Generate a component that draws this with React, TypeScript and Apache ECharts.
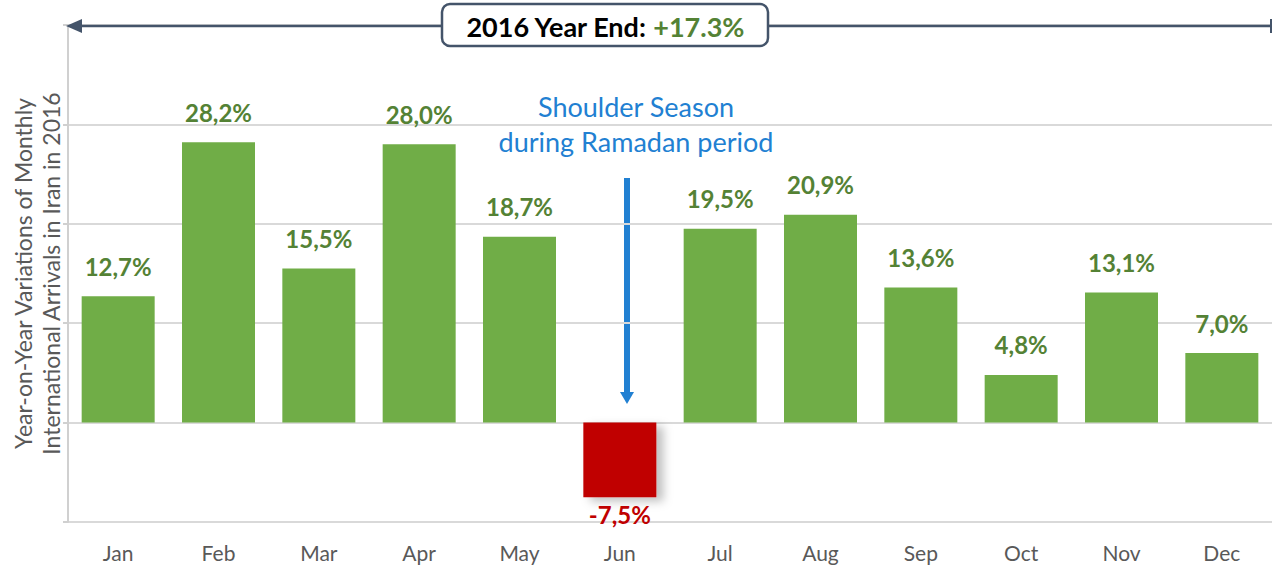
import React, { useEffect, useRef } from "react";
import * as echarts from "echarts";

const months = ["Jan", "Feb", "Mar", "Apr", "May", "Jun", "Jul", "Aug", "Sep", "Oct", "Nov", "Dec"];
const values = [12.7, 28.2, 15.5, 28.0, 18.7, -7.5, 19.5, 20.9, 13.6, 4.8, 13.1, 7.0];
const yearEndLabel = "2016 Year End: ";
const yearEndValue = "+17.3%";
const annotation = ["Shoulder Season", "during Ramadan period"];
const yName = "Year-on-Year Variations of Monthly\nInternational Arrivals in Iran in 2016";

const FONT = "Lato, 'Open Sans', sans-serif";
const GREEN = "#70ad47";
const GREEN_TXT = "#548235";
const RED = "#c00000";
const SLATE = "#44546a";
const BLUE = "#2180d2";

export default function App() {
  const ref = useRef<HTMLDivElement>(null);
  useEffect(() => {
    if (!ref.current) return;
    const chart = echarts.init(ref.current, undefined, { renderer: "svg" });
    const fmt = (v: number) => v.toFixed(1).replace(".", ",") + "%";
    chart.setOption({
      animation: false,
      textStyle: { fontFamily: FONT },
      grid: { left: 68, right: 0, top: 25, bottom: 43, containLabel: false, outerBoundsMode: "none" },
      xAxis: {
        type: "category",
        data: months,
        axisLine: { show: false, onZero: false },
        axisTick: { show: false },
        axisLabel: { color: "#595959", fontSize: 21, margin: 20, fontFamily: FONT },
      },
      yAxis: {
        type: "value",
        min: -10,
        max: 40,
        interval: 10,
        axisLabel: { show: false },
        axisLine: { show: true, lineStyle: { color: "#d0d0d0", width: 2 } },
        axisTick: { show: true, length: 5, lineStyle: { color: "#d0d0d0", width: 2 } },
        splitLine: { show: true, lineStyle: { color: "#d9d9d9", width: 2 } },
        name: yName,
        nameLocation: "middle",
        nameRotate: 90,
        nameGap: 3,
        nameTextStyle: { color: "#595959", fontSize: 23, lineHeight: 28, fontFamily: FONT },
      },
      series: [
        {
          type: "bar",
          barWidth: 73,
          data: values.map((v) =>
            v < 0
              ? {
                  value: v,
                  itemStyle: {
                    color: RED,
                    shadowColor: "rgba(0,0,0,0.25)",
                    shadowBlur: 10,
                    shadowOffsetX: 7,
                    shadowOffsetY: 4,
                  },
                  label: { color: RED, position: "bottom", distance: 5 },
                }
              : { value: v }
          ),
          itemStyle: { color: GREEN },
          label: {
            show: true,
            position: "top",
            distance: 18,
            color: GREEN_TXT,
            fontWeight: "bold",
            fontSize: 24,
            fontFamily: FONT,
            formatter: (p: any) => fmt(p.value),
          },
        },
      ],
      graphic: [
        {
          type: "line",
          z: 1,
          shape: { x1: 80, y1: 26, x2: 1271, y2: 26 },
          style: { stroke: SLATE, lineWidth: 2.5 },
        },
        {
          type: "polygon",
          z: 1,
          shape: { points: [[66, 26], [82, 19], [82, 33]] },
          style: { fill: SLATE },
        },
        {
          type: "line",
          z: 1,
          shape: { x1: 1271, y1: 19, x2: 1271, y2: 33 },
          style: { stroke: SLATE, lineWidth: 2 },
        },
        {
          type: "rect",
          z: 10,
          shape: { x: 442, y: 4, width: 326, height: 42, r: 8 },
          style: { fill: "#fff", stroke: SLATE, lineWidth: 2.5 },
        },
        {
          type: "text",
          z: 11,
          x: 605,
          y: 26,
          style: {
            text: "{a|" + yearEndLabel + "}{b|" + yearEndValue + "}",
            align: "center",
            verticalAlign: "middle",
            rich: {
              a: { fontSize: 27, fontWeight: "bold", fill: "#000", fontFamily: FONT },
              b: { fontSize: 27, fontWeight: "bold", fill: GREEN_TXT, fontFamily: FONT },
            },
          },
        },
        {
          type: "text",
          x: 636,
          y: 106,
          style: {
            text: annotation[0],
            align: "center",
            verticalAlign: "middle",
            fontSize: 27,
            fill: BLUE,
            fontFamily: FONT,
          },
        },
        {
          type: "text",
          x: 636,
          y: 141,
          style: {
            text: annotation[1],
            align: "center",
            verticalAlign: "middle",
            fontSize: 27,
            fill: BLUE,
            fontFamily: FONT,
          },
        },
        {
          type: "rect",
          shape: { x: 624, y: 178, width: 6, height: 216 },
          style: { fill: BLUE },
        },
        {
          type: "polygon",
          shape: { points: [[620, 392], [634, 392], [627, 404]] },
          style: { fill: BLUE },
        },
      ],
    });
    return () => chart.dispose();
  }, []);
  return (
    <div
      ref={ref}
      style={{ position: "absolute", left: 0, top: 0, width: 1272, height: 565, background: "#fff" }}
    />
  );
}
